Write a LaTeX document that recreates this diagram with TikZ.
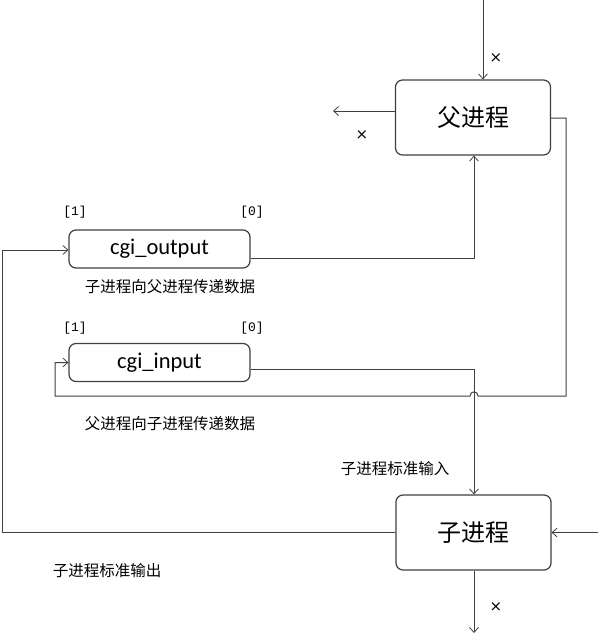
\documentclass[tikz,border=0pt]{standalone}
\usepackage{fontspec}
\newfontfamily\cjkfont{Noto Sans CJK SC}
\newfontfamily\carlitofont{Carlito}
\newfontfamily\monofont{Liberation Mono}
\newfontfamily\dvfont{DejaVu Sans}
\usetikzlibrary{arrows.meta}
\begin{document}
\begin{tikzpicture}[x=1pt,y=-1pt,
  line/.style={draw=black!75,line width=1pt},
  arr/.style={line,-{Straight Barb[length=5pt,width=9pt,line width=0.8pt]}},
  proc/.style={draw=black!75,line width=1.2pt,rounded corners=7pt,fill=white,inner sep=0pt,minimum width=155pt,minimum height=75pt,font=\cjkfont\fontsize{24}{28}\selectfont},
  pipe/.style={draw=black!75,line width=1.2pt,rounded corners=7pt,fill=white,inner sep=0pt,minimum width=181pt,minimum height=38pt,font=\carlitofont\fontsize{22.5}{26}\selectfont},
  lbl/.style={font=\cjkfont\fontsize{15.5}{18}\selectfont,inner sep=0pt},
  idx/.style={font=\monofont\fontsize{13}{15}\selectfont,inner sep=0pt},
  xm/.style={font=\dvfont\fontsize{15}{17}\selectfont,inner sep=0pt}]
\useasboundingbox (0,0) rectangle (598,635);
% nodes
\node[proc] (par) at (473,117.5) {父进程};
\node[proc] (chi) at (473.5,532.5) {子进程};
\node[pipe] (out) at (159.5,249) {cgi\_output};
\node[pipe] (in) at (159.5,362.5) {cgi\_input};
% labels
\node[idx] (o1) at (75,212) {[1]};
\node[idx] (o0) at (252,212) {[0]};
\node[idx] (i1) at (75,328) {[1]};
\node[idx] (i0) at (252,328) {[0]};
\node[lbl] (l1) at (170,287) {子进程向父进程传递数据};
\node[lbl] (l2) at (170,424) {父进程向子进程传递数据};
\node[lbl] (l3) at (395,469) {子进程标准输入};
\node[lbl] (l4) at (107,571) {子进程标准输出};
\node[xm] (x1) at (496,58) {×};
\node[xm] (x2) at (362,135) {×};
\node[xm] (x3) at (496,607) {×};
% free ends
\coordinate (top) at (483,0);
\coordinate (leftout) at (333,111);
\coordinate (rin) at (598,532.5);
\coordinate (bot) at (474,633);
% connectors
\draw[arr] (top) -- (top |- par.north);
\draw[arr] (par.west |- leftout) -- (leftout);
\draw[arr] (rin) -- (chi.east);
\draw[arr] (chi.south -| bot) -- (bot);
\draw[arr] (out.east |- 0,258) -- (474,258) -- (474,0 |- par.south);
\draw[arr] (chi.west) -- (2,532.5) -- (2,250) -- (out.west |- 0,250);
\draw[arr] (in.east |- 0,369) -- (474,369) -- (474,0 |- chi.north);
\draw[arr] (par.east |- 0,118) -- (566,118) -- (566,396) -- (478,396)
  .. controls (478,390.5) and (470,390.5) .. (470,396) -- (55,396) -- (55,362.5) -- (in.west);
\end{tikzpicture}
\end{document}
